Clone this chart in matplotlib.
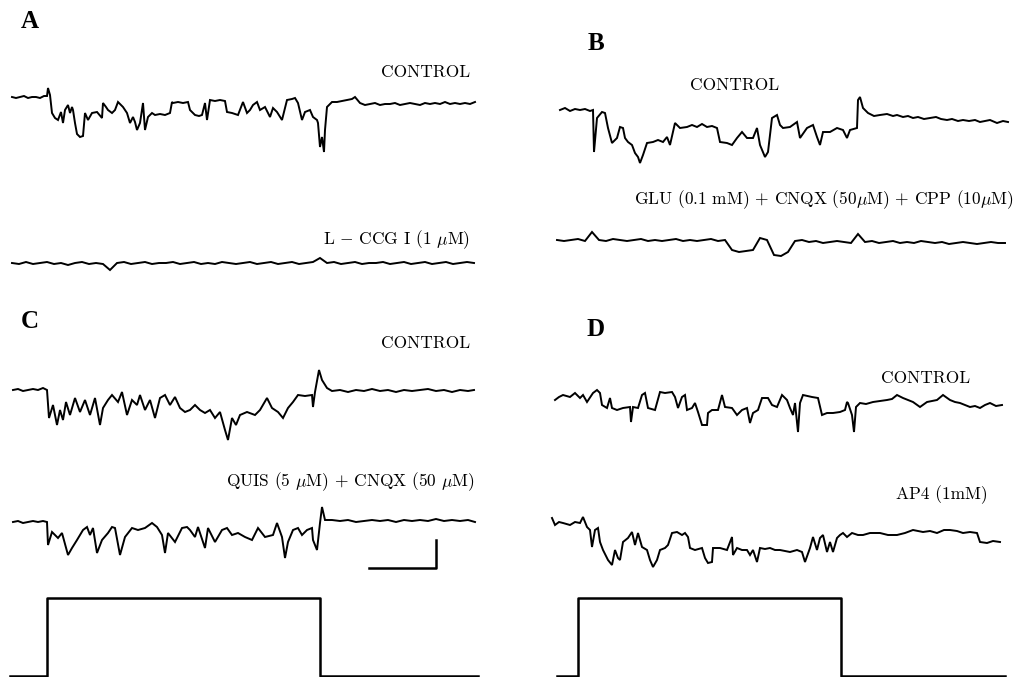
import matplotlib
matplotlib.use("Agg")
import matplotlib.pyplot as plt

plt.rcParams['mathtext.fontset'] = 'cm'

# --- traces (time in px-ms, current in px units, y grows downward) ---

# Panel A, control
a1_t = [12, 16, 20, 24, 28, 32, 36, 40, 44, 47, 48, 50, 52, 55, 58, 61, 63, 65, 68, 70, 72, 73, 75, 77, 80, 83, 85, 88,
        92, 97, 102, 103, 106, 108, 112, 115, 118, 121, 123, 127, 130, 133, 135, 137, 140, 143, 145, 148, 152, 155, 160,
        165, 170, 172, 173, 178, 183, 188, 190, 195, 199, 202, 205, 207, 210, 215, 220, 225, 227, 232, 238, 243, 247,
        250, 253, 257, 260, 265, 270, 273, 277, 282, 287, 292, 295, 298, 302, 305, 310, 313, 317, 318, 320, 322, 324,
        325, 327, 332, 337, 342, 347, 352, 355, 360, 365, 370, 375, 380, 385, 390, 395, 400, 405, 410, 415, 420, 425,
        430, 435, 440, 445, 450, 455, 460, 465, 470, 475]
a1_v = [97, 98, 97, 96, 98, 97, 97, 98, 96, 96, 88, 95, 113, 118, 120, 112, 123, 110, 105, 113, 107, 110, 123, 134, 137,
        136, 113, 120, 113, 112, 118, 103, 107, 110, 113, 110, 102, 105, 107, 113, 123, 117, 122, 130, 123, 103, 130, 117,
        113, 115, 114, 115, 113, 102, 103, 102, 103, 102, 110, 115, 116, 115, 103, 120, 100, 101, 100, 101, 112, 113, 115,
        102, 113, 110, 105, 102, 110, 107, 117, 108, 112, 120, 100, 99, 98, 103, 120, 112, 110, 117, 120, 123, 147, 137,
        152, 130, 107, 102, 102, 101, 100, 99, 97, 103, 105, 104, 103, 105, 104, 104, 103, 105, 104, 103, 104, 105, 103,
        104, 103, 104, 102, 104, 103, 104, 103, 104, 102]

# Panel A, L-CCG I
a2_t = list(range(12, 476, 7))
a2_v = [263, 264, 262, 264, 263, 262, 264, 263, 265, 263, 262, 264, 263, 264, 270, 263, 262, 264, 263, 262, 264, 263,
        263, 262, 264, 263, 262, 264, 263, 264, 262, 263, 264, 263, 262, 264, 263, 262, 264, 263, 262, 264, 263, 262,
        258, 263, 262, 264, 263, 262, 264, 263, 263, 262, 264, 263, 262, 264, 263, 262, 264, 263, 262, 264, 263, 262, 263]

# Panel B, control
b1_t = [560, 565, 570, 575, 580, 585, 590, 593, 594, 597, 602, 605, 608, 612, 617, 620, 623, 625, 628, 632, 635, 638,
        640, 643, 647, 653, 658, 663, 667, 670, 675, 680, 687, 692, 697, 702, 707, 712, 717, 720, 727, 732, 737, 742,
        747, 753, 757, 760, 765, 768, 772, 777, 780, 783, 790, 797, 800, 807, 813, 817, 820, 823, 830, 837, 843, 847,
        850, 857, 858, 860, 863, 868, 874, 880, 887, 893, 897, 903, 908, 913, 918, 924, 930, 936, 941, 947, 952, 958,
        963, 969, 975, 980, 985, 990, 997, 1003, 1008]
b1_v = [110, 108, 111, 109, 110, 109, 111, 110, 152, 118, 112, 113, 128, 143, 138, 127, 128, 138, 142, 145, 153, 157,
        163, 155, 143, 142, 140, 142, 137, 145, 123, 128, 127, 125, 127, 124, 127, 126, 128, 142, 143, 145, 138, 132,
        138, 138, 128, 145, 157, 152, 118, 115, 125, 128, 127, 122, 138, 128, 125, 137, 145, 132, 132, 128, 130, 138,
        130, 128, 100, 97, 108, 113, 116, 115, 114, 116, 115, 117, 116, 118, 117, 119, 118, 117, 119, 120, 119, 121,
        120, 121, 120, 122, 121, 120, 123, 121, 122]

# Panel B, GLU + CNQX + CPP
b2_t = list(range(557, 1006, 7))
b2_v = [240, 241, 240, 239, 241, 232, 240, 241, 239, 240, 241, 240, 239, 241, 240, 241, 240, 239, 241, 240, 241, 240,
        239, 241, 240, 250, 252, 251, 250, 238, 240, 255, 256, 252, 241, 240, 242, 241, 243, 242, 241, 242, 243, 234,
        242, 241, 243, 242, 241, 243, 242, 243, 241, 242, 243, 242, 244, 243, 242, 243, 244, 243, 242, 243, 243]

# Panel C, control
c1_t = [13, 18, 23, 28, 33, 38, 43, 47, 49, 53, 57, 60, 63, 66, 70, 75, 80, 85, 90, 95, 100, 103, 108, 112, 118, 122,
        127, 132, 137, 140, 145, 150, 155, 160, 165, 170, 175, 180, 185, 190, 195, 200, 205, 210, 215, 220, 225, 228,
        232, 236, 240, 247, 255, 260, 267, 272, 278, 283, 288, 293, 298, 305, 312, 313, 315, 319, 322, 327, 332, 340,
        348, 356, 364, 372, 380, 388, 396, 404, 412, 420, 428, 436, 444, 452, 460, 468, 474]
c1_v = [390, 389, 391, 390, 389, 390, 388, 390, 418, 405, 425, 410, 420, 402, 415, 398, 412, 400, 415, 398, 425, 408,
        400, 395, 402, 392, 415, 400, 405, 395, 410, 400, 418, 398, 395, 405, 397, 408, 412, 410, 405, 410, 413, 410,
        418, 412, 430, 440, 418, 425, 415, 412, 415, 410, 398, 408, 412, 418, 408, 402, 395, 396, 395, 407, 392, 370,
        380, 388, 391, 390, 392, 390, 391, 389, 391, 390, 392, 390, 391, 390, 389, 391, 390, 392, 390, 391, 390]

# Panel C, QUIS + CNQX
c2_t = [13, 18, 23, 28, 33, 38, 43, 47, 48, 52, 58, 62, 68, 72, 77, 83, 87, 90, 93, 97, 102, 108, 112, 115, 120, 125,
        132, 138, 145, 152, 157, 162, 165, 168, 175, 182, 187, 190, 195, 198, 205, 208, 215, 222, 227, 232, 238, 245,
        252, 258, 265, 273, 277, 282, 285, 288, 293, 298, 302, 307, 312, 313, 317, 320, 322, 325, 332, 340, 348, 356,
        364, 372, 380, 388, 396, 404, 412, 420, 428, 436, 444, 452, 460, 468, 475]
c2_v = [522, 521, 523, 522, 521, 522, 521, 522, 545, 532, 538, 533, 555, 548, 540, 530, 527, 535, 528, 553, 540, 533,
        527, 528, 555, 537, 528, 530, 528, 523, 527, 535, 553, 533, 542, 528, 527, 530, 537, 527, 548, 528, 542, 530,
        528, 535, 533, 537, 540, 528, 537, 535, 523, 537, 558, 542, 530, 528, 535, 530, 528, 540, 550, 523, 507, 520,
        520, 521, 520, 522, 521, 520, 521, 520, 522, 520, 521, 520, 521, 519, 521, 520, 521, 520, 522]

# Panel D, control
d1_t = [555, 559, 563, 570, 575, 580, 583, 587, 593, 597, 600, 602, 607, 610, 612, 617, 623, 630, 631, 633, 638, 642,
        645, 648, 655, 660, 665, 672, 675, 678, 682, 685, 687, 692, 695, 698, 702, 707, 708, 712, 718, 722, 725, 732,
        737, 742, 747, 750, 753, 758, 762, 768, 772, 777, 782, 787, 790, 793, 795, 798, 800, 803, 812, 818, 822, 827,
        833, 840, 845, 847, 848, 852, 854, 856, 860, 866, 873, 880, 887, 892, 897, 903, 908, 913, 920, 927, 932, 937,
        943, 950, 955, 960, 965, 970, 975, 980, 985, 990, 996, 1002]
d1_v = [400, 397, 395, 397, 393, 398, 395, 402, 393, 390, 393, 405, 408, 398, 408, 410, 408, 407, 422, 407, 408, 395,
        393, 408, 410, 392, 393, 392, 397, 408, 397, 395, 410, 408, 403, 412, 425, 425, 413, 410, 410, 395, 407, 408,
        415, 410, 408, 423, 413, 410, 398, 398, 405, 407, 395, 400, 408, 415, 403, 432, 403, 395, 397, 398, 415, 413,
        413, 412, 410, 402, 403, 415, 432, 407, 403, 404, 402, 401, 400, 399, 395, 398, 400, 402, 407, 402, 401, 400,
        395, 400, 402, 403, 405, 407, 406, 408, 405, 403, 406, 405]

# Panel D, AP4
d2_t = [552, 555, 559, 563, 570, 575, 580, 583, 587, 590, 592, 595, 598, 600, 603, 608, 612, 615, 618, 620, 623, 628,
        632, 635, 638, 642, 647, 650, 653, 657, 660, 665, 668, 672, 677, 682, 685, 688, 690, 695, 702, 705, 708, 712,
        713, 720, 727, 732, 733, 737, 742, 747, 750, 753, 757, 760, 765, 770, 775, 780, 785, 790, 797, 802, 805, 810,
        813, 817, 820, 823, 827, 830, 833, 837, 840, 843, 847, 852, 858, 863, 870, 880, 888, 897, 905, 913, 923, 930,
        937, 944, 950, 957, 963, 970, 977, 980, 987, 993, 1000]
d2_v = [518, 525, 522, 523, 525, 522, 523, 517, 527, 530, 547, 530, 528, 542, 550, 560, 565, 550, 558, 560, 542, 538,
        532, 545, 533, 547, 550, 560, 567, 560, 550, 548, 545, 533, 532, 535, 533, 537, 548, 550, 548, 558, 563, 562,
        548, 548, 550, 537, 555, 548, 550, 550, 555, 550, 562, 548, 549, 548, 550, 550, 551, 552, 550, 552, 562, 548,
        537, 550, 538, 535, 552, 542, 552, 538, 535, 533, 537, 533, 535, 535, 533, 533, 535, 535, 533, 530, 532, 531,
        533, 530, 530, 531, 533, 532, 533, 542, 543, 541, 542]

# stimulus steps and scale bar
step_left_t = [10, 47, 47, 320, 320, 478]
step_right_t = [557, 578, 578, 841, 841, 1005]
step_v = [676, 676, 598, 598, 676, 676]
bar_t = [369, 436, 436]
bar_v = [568, 568, 540]

fig = plt.figure(figsize=(10.17, 6.77), dpi=100)
ax = fig.add_axes([0, 0, 1, 1])
ax.set_xlim(0, 1017)
ax.set_ylim(677, 0)
ax.axis('off')

lw = 1.4
for t, v in [(a1_t, a1_v), (a2_t, a2_v), (b1_t, b1_v), (b2_t, b2_v),
             (c1_t, c1_v), (c2_t, c2_v), (d1_t, d1_v), (d2_t, d2_v)]:
    ax.plot(t, v, color='black', lw=lw, solid_joinstyle='miter')

ax.plot(step_left_t, step_v, color='black', lw=1.8)
ax.plot(step_right_t, step_v, color='black', lw=1.8)
ax.plot(bar_t, bar_v, color='black', lw=1.8)

# panel letters
letter_kw = dict(fontsize=18, fontweight='bold', family='Liberation Serif', ha='center', va='center')
ax.text(30, 22, 'A', **letter_kw)
ax.text(596, 44, 'B', **letter_kw)
ax.text(30, 322, 'C', **letter_kw)
ax.text(596, 330, 'D', **letter_kw)

lab = dict(fontsize=12.5, family='cmr10', va='center')
ax.text(470, 72, 'CONTROL', ha='right', **lab)
ax.text(470, 240, r'L $-$ CCG I (1 $\mu$M)', ha='right', **lab)
ax.text(735, 85, 'CONTROL', ha='center', **lab)
ax.text(1014, 200, r'GLU (0.1 mM) + CNQX (50$\mu$M) + CPP (10$\mu$M)', ha='right', **lab)
ax.text(470, 343, 'CONTROL', ha='right', **lab)
ax.text(475, 482, r'QUIS (5 $\mu$M) + CNQX (50 $\mu$M)', ha='right', **lab)
ax.text(970, 378, 'CONTROL', ha='right', **lab)
ax.text(988, 495, 'AP4 (1mM)', ha='right', **lab)

fig.savefig('out.png', dpi=100)
